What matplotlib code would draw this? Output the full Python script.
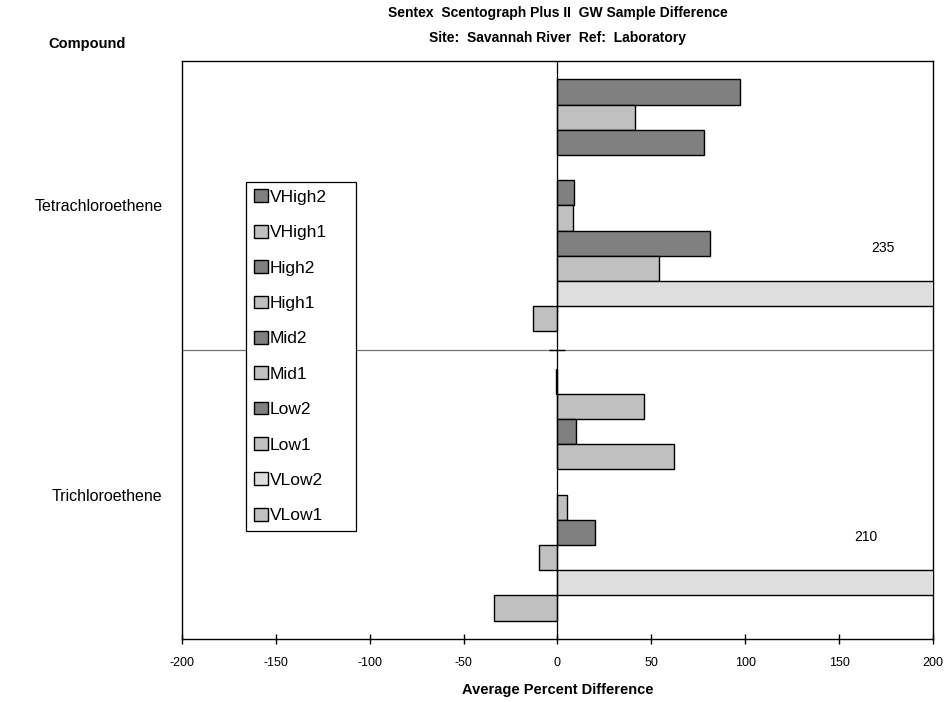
import numpy as np
import matplotlib
matplotlib.use("Agg")
import matplotlib.pyplot as plt

plt.rcParams['font.family'] = ['Liberation Sans', 'DejaVu Sans']

# data
compounds = ['Tetrachloroethene', 'Trichloroethene']
series_names = ['VHigh2', 'VHigh1', 'High2', 'High1', 'Mid2',
                'Mid1', 'Low2', 'Low1', 'VLow2', 'VLow1']
vhigh2 = [97, -1]
vhigh1 = [41, 46]
high2 = [78, 10]
high1 = [np.nan, 62]
mid2 = [9, np.nan]
mid1 = [8, 5]
low2 = [81, 20]
low1 = [54, -10]
vlow2 = [235, 210]
vlow1 = [-13, -34]
x_ticks = [-200, -150, -100, -50, 0, 50, 100, 150, 200]

series = [vhigh2, vhigh1, high2, high1, mid2, mid1, low2, low1, vlow2, vlow1]

dark = '#808080'
light = '#c0c0c0'
pale = '#dedede'
colors = [dark, light, dark, light, dark, light, dark, light, pale, light]

fig = plt.figure(figsize=(9.47, 7.02), dpi=100)
ax = fig.add_axes([0.1919, 0.0893, 0.7936, 0.8242])

n = len(series)
bar_h = 0.871 / n
y_base = np.arange(len(compounds))
for i, (vals, name, col) in enumerate(zip(series, series_names, colors)):
    y = y_base - 0.5 + 0.0645 + (i + 0.5) * bar_h
    ax.barh(y, vals, height=bar_h, color=col, edgecolor='black',
            linewidth=1.0, label=name, zorder=3)

# labels for bars running off the scale
label_x = [173, 164]
for k, v in enumerate(vlow2):
    yk = y_base[k] - 0.5 + 0.0645 + 8.5 * bar_h - 0.158
    ax.text(label_x[k], yk, f'{v:g}', ha='center', va='center', fontsize=10)

ax.set_xlim(-200, 200)
ax.set_ylim(1.5, -0.5)
ax.set_xticks(x_ticks)
ax.set_xticklabels([str(t) for t in x_ticks], fontsize=9)
ax.tick_params(axis='x', direction='inout', length=7, width=1, pad=9)
ax.set_yticks(y_base)
ax.set_yticklabels(compounds, fontsize=11.5)
ax.tick_params(axis='y', length=0, pad=14)

ax.axhline(0.5, color='#707070', linewidth=0.9, zorder=1)
ax.axvline(0, color='black', linewidth=0.9, zorder=4)
ax.plot([0], [0.5], marker='_', markersize=12, color='black', zorder=4)

for sp in ax.spines.values():
    sp.set_linewidth(1.0)
    sp.set_color('black')

ax.set_xlabel('Average Percent Difference', fontsize=10.5, fontweight='bold',
              labelpad=10)

leg = ax.legend(loc='upper left', bbox_to_anchor=(0.0852, 0.791, 0.1464, 0.0),
                mode='expand', fontsize=12.5, frameon=True, fancybox=False,
                edgecolor='black', framealpha=1, borderaxespad=0,
                handlelength=0.85, handleheight=0.75, handletextpad=0.1,
                labelspacing=1.15, borderpad=0.45)
leg.get_frame().set_linewidth(0.9)
leg.set_zorder(5)

fig.text(0.589, 0.981, 'Sentex  Scentograph Plus II  GW Sample Difference',
         ha='center', va='center', fontsize=10, fontweight='bold')
fig.text(0.589, 0.946, 'Site:  Savannah River  Ref:  Laboratory',
         ha='center', va='center', fontsize=10, fontweight='bold')
fig.text(0.092, 0.937, 'Compound', ha='center', va='center',
         fontsize=10.5, fontweight='bold')

fig.savefig('out.png', dpi=100)
